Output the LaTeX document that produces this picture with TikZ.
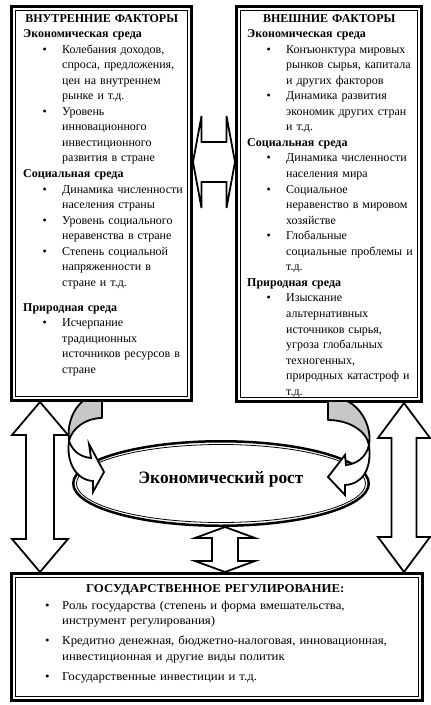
\documentclass[tikz,border=0pt]{standalone}
\usepackage{fontspec}
\setmainfont{Liberation Serif}
\newfontfamily\widefont{Liberation Serif}[FakeStretch=1.07]
\usetikzlibrary{shapes.geometric,calc}

\newcommand{\ttl}[2]{\makebox[#1]{\bfseries #2}}
\newcommand{\hd}[1]{\textbf{#1}}
\newcommand{\bul}{\hspace*{19.5pt}\makebox[19.5pt][l]{\textbullet}}
\newcommand{\cnt}{\hspace*{39pt}}
\newcommand{\innerframe}[1]{\draw[line width=0.8pt] ([xshift=5.5pt,yshift=-5.5pt]#1.north west) rectangle ([xshift=-5.5pt,yshift=5.5pt]#1.south east);}
% double block arrows: tip, tip, shaft half width, head half width, head length
\newcommand{\vdbl}[5]{\draw[blockarrow] let \p1=(#1), \p2=(#2) in
  (\p1) -- (\x1+#4,\y1-#5) -- (\x1+#3,\y1-#5) -- (\x1+#3,\y2+#5) -- (\x1+#4,\y2+#5)
  -- (\p2) -- (\x1-#4,\y2+#5) -- (\x1-#3,\y2+#5) -- (\x1-#3,\y1-#5) -- (\x1-#4,\y1-#5) -- cycle;}
\newcommand{\hdbl}[5]{\draw[blockarrow] let \p1=(#1), \p2=(#2) in
  (\p1) -- (\x1+#5,\y1+#4) -- (\x1+#5,\y1+#3) -- (\x2-#5,\y1+#3) -- (\x2-#5,\y1+#4)
  -- (\p2) -- (\x2-#5,\y1-#4) -- (\x2-#5,\y1-#3) -- (\x1+#5,\y1-#3) -- (\x1+#5,\y1-#4) -- cycle;}

\begin{document}
\begin{tikzpicture}[x=1pt, y=-1pt, every node/.style={font=\fontsize{12pt}{15.55pt}\selectfont}]
\tikzstyle{frame} = [rectangle, draw=black, line width=3pt, fill=white, inner sep=0pt]
\tikzstyle{txt} = [anchor=base west, inner sep=0pt, text width=200pt, align=left]
\tikzstyle{growth} = [ellipse, draw=black, line width=2.5pt, fill=white, minimum width=295.5pt, minimum height=84.5pt]
\tikzstyle{blockarrow} = [draw=black, line width=1.8pt, fill=white]
\tikzstyle{back} = [draw=black, line width=1.8pt, fill=black!22, line join=round]
\tikzstyle{front} = [draw=black, line width=1.8pt, fill=white]

\useasboundingbox (0,0) rectangle (431,705);

% Boxes
\node (lbox) [frame, minimum width=180pt, minimum height=394pt] at (101.5,203.5) {};
\node (rbox) [frame, minimum width=185pt, minimum height=395pt] at (329,204) {};
\node (bbox) [frame, minimum width=411pt, minimum height=127pt] at (217,637) {};
\innerframe{lbox}
\innerframe{rbox}
\innerframe{bbox}

\node (ltxt) [txt] at (23,22) {\ttl{157pt}{ВНУТРЕННИЕ ФАКТОРЫ}\\
\hd{Экономическая среда}\\
\bul Колебания доходов,\\
\cnt спроса, предложения,\\
\cnt цен на внутреннем\\
\cnt рынке и т.д.\\
\bul Уровень\\
\cnt инновационного\\
\cnt инвестиционного\\
\cnt развития в стране\\
\hd{Социальная среда}\\
\bul Динамика численности\\
\cnt населения страны\\
\bul Уровень социального\\
\cnt неравенства в стране\\
\bul Степень социальной\\
\cnt напряженности в\\
\cnt стране и т.д.\\[9.4pt]
\hd{Природная среда}\\
\bul Исчерпание\\
\cnt традиционных\\
\cnt источников ресурсов в\\
\cnt стране};

\node (rtxt) [txt] at (247,22) {\ttl{164pt}{ВНЕШНИЕ ФАКТОРЫ}\\
\hd{Экономическая среда}\\
\bul Конъюнктура мировых\\
\cnt рынков сырья, капитала\\
\cnt и других факторов\\
\bul Динамика развития\\
\cnt экономик других стран\\
\cnt и т.д.\\
\hd{Социальная среда}\\
\bul Динамика численности\\
\cnt населения мира\\
\bul Социальное\\
\cnt неравенство в мировом\\
\cnt хозяйстве\\
\bul Глобальные\\
\cnt социальные проблемы и\\
\cnt т.д.\\
\hd{Природная среда}\\
\bul Изыскание\\
\cnt альтернативных\\
\cnt источников сырья,\\
\cnt угроза глобальных\\
\cnt техногенных,\\
\cnt природных катастроф и\\
\cnt т.д.};

\node (btxt) [txt, text width=380pt, font=\widefont\fontsize{12pt}{15.5pt}\selectfont] at (45,592) {\makebox[340pt]{\bfseries ГОСУДАРСТВЕННОЕ РЕГУЛИРОВАНИЕ:}\\[1.5pt]
\makebox[17pt][l]{\textbullet}Роль государства (степень и форма вмешательства,\\
\hspace*{17pt}инструмент регулирования)\\[4.5pt]
\makebox[17pt][l]{\textbullet}Кредитно денежная, бюджетно-налоговая, инновационная,\\
\hspace*{17pt}инвестиционная и другие виды политик\\[4.5pt]
\makebox[17pt][l]{\textbullet}Государственные инвестиции и т.д.};

% Growth
\node (ell) [growth] at (221,483.5) {};
\draw[line width=0.8pt] (ell.center) ellipse [x radius=144.5pt, y radius=39pt];
\node (grtxt) [anchor=base, font=\fontsize{17.4pt}{20pt}\selectfont\bfseries] at (ell.center) {Экономический рост};

% Arrows
\coordinate (lvtop) at ([xshift=30pt]lbox.south west);
\coordinate (lvbot) at ([xshift=30pt]bbox.north west);
\vdbl{lvtop}{lvbot}{14pt}{28pt}{33pt}
\coordinate (rvtop) at ([xshift=-19pt]rbox.south east);
\coordinate (rvbot) at ([xshift=-20pt]bbox.north east);
\vdbl{rvtop}{rvbot}{12.5pt}{26pt}{35pt}
\coordinate (hleft) at ([yshift=41.5pt]lbox.east);
\coordinate (hright) at ([yshift=42pt]rbox.west);
\hdbl{hleft}{hright}{20pt}{46pt}{8.5pt}
\coordinate (mtop) at ([xshift=4pt]ell.south);
\coordinate (mbot) at (mtop |- bbox.north);
\vdbl{mtop}{mbot}{13pt}{30pt}{11pt}

% Curved arrows
\draw[back] (102,401) -- (102,418) .. controls (86,418) and (72,428) .. (69,441)
  .. controls (67,424) and (73,409) .. (83,401) -- cycle;
\draw[front] (69,441) .. controls (73,452) and (81,457) .. (91,458) -- (89,444) -- (104,472)
  -- (93,492) -- (93,481) .. controls (76,480) and (66,462) .. (69,441) -- cycle;
\draw[back] (328,401) -- (328,420) .. controls (348,420) and (366,430) .. (369,445)
  .. controls (372,428) and (362,408) .. (347,401) -- cycle;
\draw[front] (369,445) .. controls (366,458) and (356,464) .. (346,465) -- (345,455) -- (328,477)
  -- (345,495) -- (345,485) .. controls (362,484) and (372,470) .. (369,445) -- cycle;
\end{tikzpicture}
\end{document}
